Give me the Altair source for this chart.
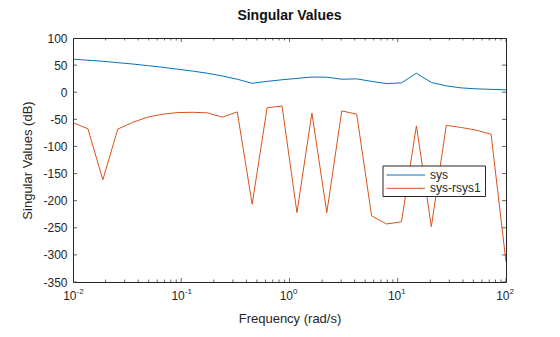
import altair as alt
import pandas as pd

# Frequency grid (rad/s)
freq = [0.01, 0.013738, 0.018874, 0.025929, 0.035622, 0.048939, 0.067234, 0.092367,
        0.12690, 0.17433, 0.23950, 0.32903, 0.45204, 0.62102, 0.85317, 1.1721,
        1.6103, 2.2122, 3.0392, 4.1753, 5.7362, 7.8805, 10.826, 14.874,
        20.434, 28.072, 38.566, 52.983, 72.790, 100.0]

# Singular values (dB)
sys_db = [61, 59, 57, 54.5, 52, 49, 46, 42.5, 39, 35, 30, 24, 16.5, 20, 23,
          25.5, 28, 27.7, 24, 24.6, 20, 16, 17.2, 35, 18, 11.7, 8, 6.2, 5.3, 4.3]
err_db = [-56, -67.5, -161.5, -68, -55.5, -46, -40.5, -37.5, -37, -38, -46, -36.3,
          -206.5, -28.5, -25.5, -222, -38.5, -222, -34.5, -40.5, -228, -243, -239,
          -62, -248, -61, -65, -70, -77.5, -313]

series_names = ["sys", "sys-rsys1"]
series_colors = ["#0072BD", "#D95319"]

y_ticks = [-350, -300, -250, -200, -150, -100, -50, 0, 50, 100]
x_major = [0.01, 0.1, 1, 10, 100]
x_major_base = ["10", "10", "10", "10", "10"]
x_major_exp = ["-2", "-1", "0", "1", "2"]
x_minor = [m * 10.0 ** d for d in range(-2, 2) for m in range(2, 10)]

FONT = "Liberation Sans"
AX = "#262626"
W, H = 433, 244

df = pd.DataFrame({
    "freq": freq + freq,
    "db": sys_db + err_db,
    "series": [series_names[0]] * len(freq) + [series_names[1]] * len(freq),
})

xscale = alt.Scale(type="log", domain=[0.01, 100], nice=False)
yscale = alt.Scale(domain=[-350, 100], nice=False, zero=False)

yaxis = alt.Axis(values=y_ticks, title="Singular Values (dB)", ticks=False, tickSize=0,
                 domain=False, grid=False, labelPadding=6, titlePadding=8,
                 labelOverlap=False, labelExpr="'' + datum.value",
                 labelFont=FONT, labelFontSize=12, labelColor=AX,
                 titleFont=FONT, titleFontSize=13, titleFontWeight="normal", titleColor=AX)
xaxis = alt.Axis(title="Frequency (rad/s)", labels=False, ticks=False, tickSize=0,
                 domain=False, grid=False, titlePadding=30,
                 titleFont=FONT, titleFontSize=13, titleFontWeight="normal", titleColor=AX)

lines = alt.Chart(df).mark_line(strokeWidth=1, clip=True).encode(
    x=alt.X("freq:Q", scale=xscale, axis=xaxis),
    y=alt.Y("db:Q", scale=yscale, axis=yaxis),
    color=alt.Color("series:N", scale=alt.Scale(domain=series_names, range=series_colors),
                    legend=None),
)

df_major = pd.DataFrame({"freq": x_major, "base": x_major_base, "exp": x_major_exp})
df_minor = pd.DataFrame({"freq": x_minor})
df_y = pd.DataFrame({"db": y_ticks})

def xticks(data, size, ypos):
    return alt.Chart(data).mark_tick(size=size, thickness=1, color=AX, clip=True).encode(
        x=alt.X("freq:Q", scale=xscale, axis=xaxis), y=alt.value(ypos))

def yticks(xpos):
    return alt.Chart(df_y).mark_tick(size=8, thickness=1, color=AX, clip=True).encode(
        y=alt.Y("db:Q", scale=yscale, axis=yaxis), x=alt.value(xpos))

base_labels = alt.Chart(df_major).mark_text(
    align="right", baseline="alphabetic", dx=3.5, fontSize=12, font=FONT, color=AX
).encode(x=alt.X("freq:Q", scale=xscale, axis=xaxis), y=alt.value(H + 18), text="base:N")

exp_labels = alt.Chart(df_major).mark_text(
    align="left", baseline="alphabetic", dx=3.5, fontSize=8, font=FONT, color=AX
).encode(x=alt.X("freq:Q", scale=xscale, axis=xaxis), y=alt.value(H + 12), text="exp:N")

# Manual legend (box, line samples, labels)
LX, LY, LW, LH = 310, 128, 102.5, 30.5
legend_box = alt.Chart(pd.DataFrame({"k": [0]})).mark_rect(
    fill="white", stroke=AX, strokeWidth=1
).encode(x=alt.value(LX), x2=alt.value(LX + LW), y=alt.value(LY), y2=alt.value(LY + LH))

legend_layers = []
for i, (name, col) in enumerate(zip(series_names, series_colors)):
    row_y = LY + 9 + 13.3 * i
    d = pd.DataFrame({"series": [name]})
    legend_layers.append(
        alt.Chart(d).mark_rule(color=col, strokeWidth=1).encode(
            x=alt.value(LX + 3.5), x2=alt.value(LX + 42), y=alt.value(row_y)))
    legend_layers.append(
        alt.Chart(d).mark_text(align="left", baseline="middle", fontSize=12, font=FONT,
                               color=AX).encode(
            x=alt.value(LX + 47), y=alt.value(row_y), text="series:N"))

chart = alt.layer(
    lines,
    xticks(df_major, 8, 0), xticks(df_major, 8, H),
    xticks(df_minor, 5, 0), xticks(df_minor, 5, H),
    yticks(0), yticks(W),
    base_labels, exp_labels,
    legend_box, *legend_layers,
).properties(
    width=W, height=H,
    title=alt.TitleParams("Singular Values", fontSize=14, fontWeight="bold", font=FONT,
                          color="#111111", anchor="middle", offset=9),
    autosize=alt.AutoSizeParams(type="none"),
    padding={"left": 73, "top": 38, "right": 54, "bottom": 55},
    background="white",
).configure_view(
    stroke=AX, strokeWidth=1
).configure_axisY(
    labelOverlap=False
)

chart.save("out.html", embed_options={"renderer": "svg", "actions": False})
